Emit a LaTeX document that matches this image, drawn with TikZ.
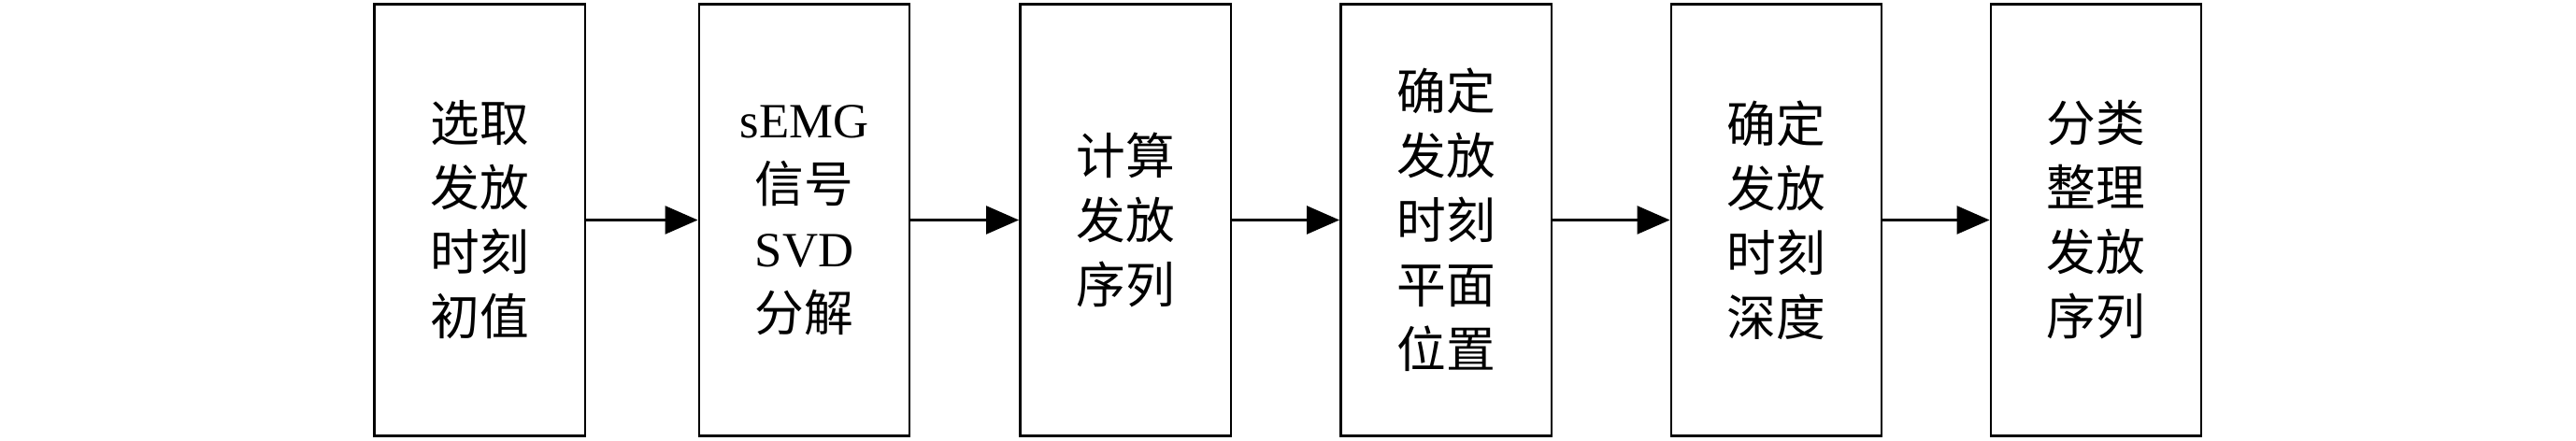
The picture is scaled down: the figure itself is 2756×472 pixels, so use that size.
\documentclass[tikz,border=0pt]{standalone}
\usepackage{fontspec}
\setmainfont{Liberation Serif}
\newfontfamily\cjk{Noto Sans CJK SC}
\usetikzlibrary{arrows.meta}
\newcommand\zh[1]{{\cjk #1}}
\begin{document}
\begin{tikzpicture}[x=0.02cm,y=0.02cm,
  stepbox/.style={draw=black, line width=1.4pt, minimum width=4.51cm, minimum height=9.24cm,
    inner sep=0pt, align=center, font=\fontsize{30}{39.3}\selectfont},
  flow/.style={line width=1.4pt, -{Triangle[length=0.7cm,width=0.6cm]}}]
\useasboundingbox (0,0) rectangle (2756,472);
\node[stepbox] (b1) at (513,236.5) {\zh{选取}\\\zh{发放}\\\zh{时刻}\\\zh{初值}};
\node[stepbox] (b2) at (860.5,236.5) {sEMG\\\zh{信号}\\SVD\\\zh{分解}};
\node[stepbox] (b3) at (1204,236.5) {\zh{计算}\\\zh{发放}\\\zh{序列}};
\node[stepbox] (b4) at (1547,236.5) {\zh{确定}\\\zh{发放}\\\zh{时刻}\\\zh{平面}\\\zh{位置}};
\node[stepbox] (b5) at (1900.5,236.5) {\zh{确定}\\\zh{发放}\\\zh{时刻}\\\zh{深度}};
\node[stepbox] (b6) at (2242.5,236.5) {\zh{分类}\\\zh{整理}\\\zh{发放}\\\zh{序列}};
\draw[flow] (b1.east) -- (b2.west);
\draw[flow] (b2.east) -- (b3.west);
\draw[flow] (b3.east) -- (b4.west);
\draw[flow] (b4.east) -- (b5.west);
\draw[flow] (b5.east) -- (b6.west);
\end{tikzpicture}
\end{document}
